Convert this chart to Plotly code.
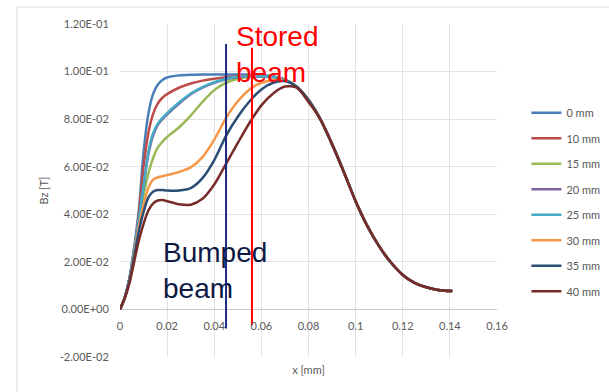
import plotly.graph_objects as go

# ---------------- data ----------------
x_pos = [0, 0.002, 0.004, 0.006, 0.008, 0.010, 0.012, 0.014, 0.016, 0.018, 0.020,
         0.025, 0.030, 0.035, 0.040, 0.045, 0.050, 0.055, 0.060, 0.065, 0.070,
         0.075, 0.080, 0.085, 0.090, 0.095, 0.100, 0.105, 0.110, 0.115, 0.120,
         0.125, 0.130, 0.135, 0.141]

tail = [0.0800, 0.0695, 0.0578, 0.0455, 0.0350, 0.0265, 0.0197, 0.0145,
        0.0112, 0.0093, 0.0082, 0.0077]

bz_0mm = [0, 0.005, 0.013, 0.026, 0.042, 0.066, 0.082, 0.0905, 0.0945, 0.0965, 0.0975,
          0.0984, 0.0987, 0.0988, 0.0988, 0.0988, 0.0988, 0.0987, 0.0985, 0.0980, 0.0965,
          0.0935, 0.0880] + tail
bz_10mm = [0, 0.005, 0.013, 0.025, 0.040, 0.060, 0.074, 0.0820, 0.0865, 0.0890, 0.0905,
           0.0932, 0.0950, 0.0962, 0.0970, 0.0976, 0.0980, 0.0982, 0.0981, 0.0978, 0.0966,
           0.0936, 0.0880] + tail
bz_15mm = [0, 0.005, 0.012, 0.024, 0.037, 0.048, 0.057, 0.0635, 0.0680, 0.0705, 0.0725,
           0.0765, 0.0815, 0.0872, 0.0922, 0.0953, 0.0970, 0.0977, 0.0978, 0.0976, 0.0965,
           0.0936, 0.0880] + tail
bz_20mm = [0, 0.005, 0.013, 0.025, 0.038, 0.052, 0.065, 0.0730, 0.0775, 0.0800, 0.0820,
           0.0865, 0.0905, 0.0933, 0.0953, 0.0968, 0.0976, 0.0979, 0.0979, 0.0977, 0.0966,
           0.0936, 0.0880] + tail
bz_25mm = [0, 0.005, 0.013, 0.025, 0.038, 0.052, 0.066, 0.0740, 0.0780, 0.0805, 0.0825,
           0.0870, 0.0908, 0.0935, 0.0955, 0.0970, 0.0978, 0.0980, 0.0980, 0.0977, 0.0966,
           0.0936, 0.0880] + tail
bz_30mm = [0, 0.005, 0.012, 0.023, 0.035, 0.044, 0.051, 0.0545, 0.0555, 0.0560, 0.0565,
           0.0578, 0.0597, 0.0640, 0.0714, 0.0805, 0.0875, 0.0925, 0.0953, 0.0964, 0.0962,
           0.0936, 0.0880] + tail
bz_35mm = [0, 0.005, 0.012, 0.022, 0.033, 0.041, 0.047, 0.0495, 0.0502, 0.0502, 0.0500,
           0.0500, 0.0510, 0.0552, 0.0628, 0.0730, 0.0810, 0.0875, 0.0925, 0.0953, 0.0960,
           0.0936, 0.0880] + tail
bz_40mm = [0, 0.0045, 0.011, 0.020, 0.029, 0.036, 0.0415, 0.0445, 0.0458, 0.0460, 0.0455,
           0.0442, 0.0440, 0.0465, 0.0525, 0.0612, 0.0700, 0.0785, 0.0858, 0.0908, 0.0937,
           0.0932, 0.0872] + tail

series_names = ["0 mm", "10 mm", "15 mm", "20 mm", "25 mm", "30 mm", "35 mm", "40 mm"]
series_values = [bz_0mm, bz_10mm, bz_15mm, bz_20mm, bz_25mm, bz_30mm, bz_35mm, bz_40mm]
series_colors = ["#4a7ebb", "#be4b48", "#98b954", "#7d60a0", "#46aac5", "#f79646",
                 "#2c4d75", "#772c2a"]

bumped_x = [0.045, 0.045]
bumped_y = [-0.008, 0.1116]
stored_x = [0.056, 0.056]
stored_y = [-0.0067, 0.110]

x_ticks = [0, 0.02, 0.04, 0.06, 0.08, 0.1, 0.12, 0.14, 0.16]
x_ticktext = ["0", "0.02", "0.04", "0.06", "0.08", "0.1", "0.12", "0.14", "0.16"]
y_ticks = [-0.02, 0, 0.02, 0.04, 0.06, 0.08, 0.10, 0.12]
y_ticktext = ["-2.00E-02", "0.00E+00", "2.00E-02", "4.00E-02", "6.00E-02",
              "8.00E-02", "1.00E-01", "1.20E-01"]

# ---------------- figure ----------------
FONT = "Lato, 'Open Sans', sans-serif"
GRAY = "#595959"

fig = go.Figure()
for name, vals, col in zip(series_names, series_values, series_colors):
    fig.add_trace(go.Scatter(
        x=x_pos, y=vals, name=name, mode="lines",
        line=dict(color=col, width=2.5, shape="spline", smoothing=0.8),
        legendgroup=name, xaxis="x", yaxis="y"))

fig.add_trace(go.Scatter(x=bumped_x, y=bumped_y, mode="lines", showlegend=False,
                         line=dict(color="#1c2a80", width=2), xaxis="x2", yaxis="y"))
fig.add_trace(go.Scatter(x=stored_x, y=stored_y, mode="lines", showlegend=False,
                         line=dict(color="#ff0000", width=2), xaxis="x2", yaxis="y"))

fig.add_annotation(x=0.0485, y=0.107, xref="x", yref="y", text="Stored<br>beam",
                   showarrow=False, xanchor="left", yanchor="middle", align="left",
                   font=dict(family="Liberation Sans, Arial", size=28, color="#ff0000"))
fig.add_annotation(x=0.0175, y=0.0162, xref="x", yref="y", text="Bumped<br>beam",
                   showarrow=False, xanchor="left", yanchor="middle", align="left",
                   font=dict(family="Liberation Sans, Arial", size=28, color="#0e1a45"))

# outer chart frame (left and top edges)
fig.add_shape(type="line", xref="paper", yref="paper", x0=-0.273, x1=-0.273, y0=-0.2, y1=1.051,
              line=dict(color="#d9d9d9", width=1))
fig.add_shape(type="line", xref="paper", yref="paper", x0=-0.273, x1=1.4, y0=1.051, y1=1.051,
              line=dict(color="#d9d9d9", width=1))

fig.update_layout(
    width=609, height=392,
    margin=dict(l=120, r=112, t=24, b=35, autoexpand=False),
    paper_bgcolor="white", plot_bgcolor="white",
    font=dict(family=FONT, size=11, color=GRAY),
    showlegend=True,
    legend=dict(x=1.078, y=0.777, xanchor="left", yanchor="top",
                traceorder="grouped", tracegroupgap=6.5,
                font=dict(family=FONT, size=11, color=GRAY),
                bgcolor="rgba(0,0,0,0)"),
    xaxis=dict(range=[0, 0.16], tickvals=x_ticks, showticklabels=False,
               showgrid=True, gridcolor="#e3e3e3", gridwidth=1, zeroline=False,
               showline=False, ticks="",
               title=dict(text="x [mm]", standoff=9,
                          font=dict(family=FONT, size=11, color=GRAY))),
    xaxis2=dict(range=[0, 0.16], overlaying="x", matches="x", anchor="free",
                position=0.142857, tickvals=x_ticks, ticktext=x_ticktext,
                showgrid=False, zeroline=False, showline=False,
                ticks="outside", ticklen=6, tickcolor="rgba(0,0,0,0)",
                tickfont=dict(family=FONT, size=11, color=GRAY)),
    yaxis=dict(range=[-0.02, 0.12], tickvals=y_ticks, ticktext=y_ticktext,
               showgrid=True, gridcolor="#e3e3e3", gridwidth=1,
               zeroline=True, zerolinecolor="#c8c8c8", zerolinewidth=1,
               showline=False, ticks="outside", ticklen=8, tickcolor="rgba(0,0,0,0)",
               tickfont=dict(family=FONT, size=11, color=GRAY),
               title=dict(text="Bz [T]", standoff=8,
                          font=dict(family=FONT, size=11, color=GRAY))),
)

fig.write_html("out.html")
